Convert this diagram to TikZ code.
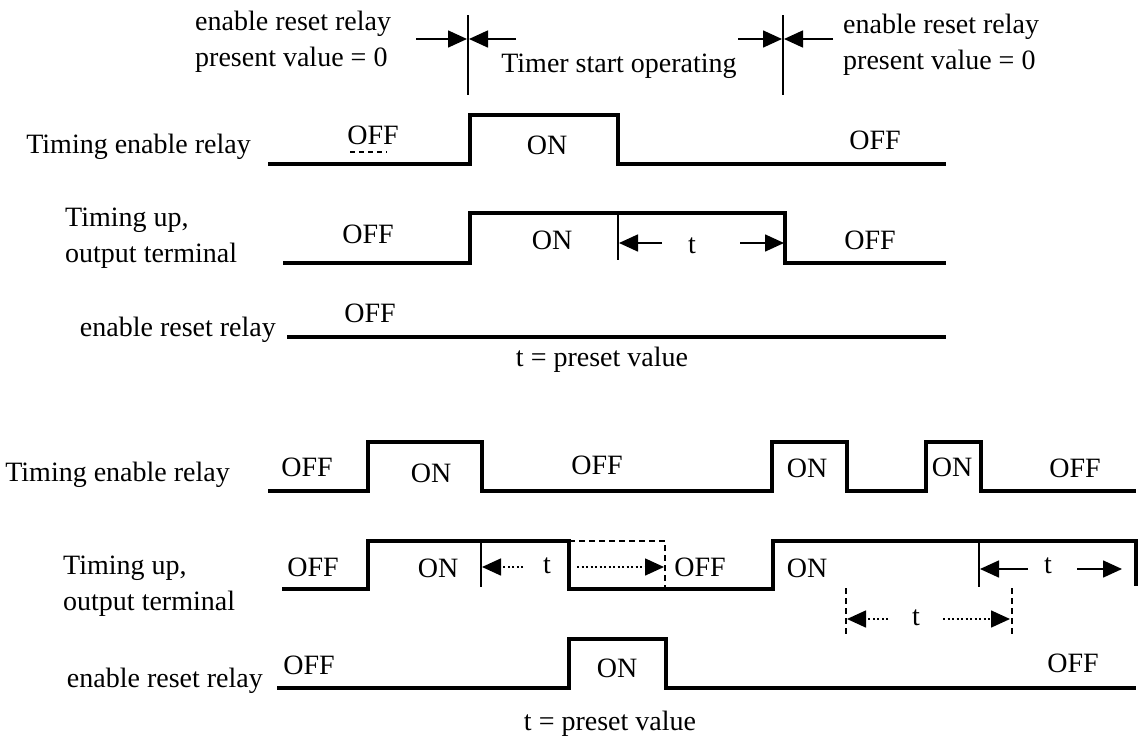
\documentclass[tikz,border=0pt]{standalone}
\usepackage{fontspec}
\setmainfont{Liberation Serif}
\usetikzlibrary{arrows.meta}
\begin{document}
\begin{tikzpicture}[x=1pt,y=-1pt,
  every node/.style={font=\fontsize{28}{36}\selectfont, inner sep=0pt},
  lbl/.style={align=left},
  sig/.style={line width=3.2pt, line join=miter},
  marker/.style={line width=1.6pt},
  dimarr/.style={line width=1.6pt, -{Triangle[length=19pt,width=17pt]}},
  dotarr/.style={line width=1.6pt, dash pattern=on 2pt off 2.5pt, -{Triangle[length=19pt,width=17pt]}},
  dashln/.style={line width=1.6pt, dash pattern=on 6pt off 4pt},
]
\useasboundingbox[fill=white] (0,0) rectangle (1138,736);

% ---------------- header ----------------
\node[lbl, anchor=west] (hl) at (195,42) {enable reset relay\\present value = 0};
\node[lbl, anchor=west] (hr) at (843,45) {enable reset relay\\present value = 0};
\node (ts) at (619,66) {Timer start operating};
\coordinate (v1t) at (468,15); \coordinate (v1b) at (468,95);
\coordinate (v2t) at (783,15); \coordinate (v2b) at (783,95);
\draw[marker] (v1t) -- (v1b);
\draw[marker] (v2t) -- (v2b);
\coordinate (h1a) at (416,39); \coordinate (h1b) at (467,39);
\coordinate (h2a) at (516,39); \coordinate (h2b) at (469,39);
\coordinate (h3a) at (738,39); \coordinate (h3b) at (782,39);
\coordinate (h4a) at (833,39); \coordinate (h4b) at (784,39);
\draw[dimarr] (h1a) -- (h1b);
\draw[dimarr] (h2a) -- (h2b);
\draw[dimarr] (h3a) -- (h3b);
\draw[dimarr] (h4a) -- (h4b);

% ---------------- top diagram ----------------
\node[anchor=east] (L1) at (251,147) {Timing enable relay};
\node[lbl, anchor=west] (L2) at (65,238) {Timing up,\\output terminal};
\node[anchor=east] (L3) at (276,330) {enable reset relay};

\draw[sig] (268,164) -- (470,164) -- (470,115) -- (618,115) -- (618,164) -- (946,164);
\draw[sig] (283,263) -- (470,263) -- (470,213) -- (785,213) -- (785,263) -- (946,263);
\draw[sig] (287,337) -- (946,337);

\node (t1a) at (373,135) {OFF};
\draw[line width=1.2pt, dash pattern=on 5pt off 4pt] (350,152) -- (387,152);
\node (t1b) at (547,145) {ON};
\node (t1c) at (875,140) {OFF};
\node (t2a) at (368,234) {OFF};
\node (t2b) at (552,240) {ON};
\node (t2c) at (870,240) {OFF};
\node (t3a) at (370,313) {OFF};
\node (tp1) at (602,360) {t = preset value};

\coordinate (m1t) at (618,213); \coordinate (m1b) at (618,260);
\draw[marker] (m1t) -- (m1b);
\coordinate (d1a) at (662,243); \coordinate (d1b) at (619,243);
\coordinate (d2a) at (740,243); \coordinate (d2b) at (784,243);
\draw[dimarr] (d1a) -- (d1b);
\draw[dimarr] (d2a) -- (d2b);
\node (tt1) at (692,246) {t};

% ---------------- bottom diagram ----------------
\node[anchor=east] (B1) at (230,475) {Timing enable relay};
\node[lbl, anchor=west] (B2) at (63,586) {Timing up,\\output terminal};
\node[anchor=east] (B3) at (263,681) {enable reset relay};

\draw[sig] (268,491) -- (368,491) -- (368,442) -- (482,442) -- (482,491)
  -- (772,491) -- (772,442) -- (847,442) -- (847,491)
  -- (926,491) -- (926,442) -- (981,442) -- (981,491) -- (1136,491);
\draw[sig] (282,589) -- (368,589) -- (368,541) -- (569,541) -- (569,589)
  -- (773,589) -- (773,541) -- (1136,541) -- (1136,586);
\draw[sig] (277,688) -- (569,688) -- (569,639) -- (666,639) -- (666,688) -- (1136,688);

\node (b1a) at (307,467) {OFF};
\node (b1b) at (431,473) {ON};
\node (b1c) at (597,465) {OFF};
\node (b1d) at (807,468) {ON};
\node (b1e) at (952,467) {ON};
\node (b1f) at (1075,468) {OFF};
\node (b2a) at (313,567) {OFF};
\node (b2b) at (438,568) {ON};
\node (b2c) at (700,567) {OFF};
\node (b2d) at (807,568) {ON};
\node (b3a) at (309,665) {OFF};
\node (b3b) at (617,668) {ON};
\node (b3c) at (1073,663) {OFF};
\node (tp2) at (610,724) {t = preset value};

% dashed "would-be" pulse
\coordinate (q1) at (569,541); \coordinate (q2) at (665,541); \coordinate (q3) at (665,589);
\draw[dashln] (q1) -- (q2) -- (q3);

% first interrupted timing
\coordinate (m2t) at (481,541); \coordinate (m2b) at (481,587);
\draw[marker] (m2t) -- (m2b);
\coordinate (e1a) at (523,567); \coordinate (e1b) at (482,567);
\coordinate (e2a) at (577,567); \coordinate (e2b) at (664,567);
\draw[dotarr] (e1a) -- (e1b);
\draw[dotarr] (e2a) -- (e2b);
\node (tt2) at (547,566) {t};

% second timing (completed)
\coordinate (m3t) at (979,541); \coordinate (m3b) at (979,587);
\draw[marker] (m3t) -- (m3b);
\coordinate (f1a) at (1028,569); \coordinate (f1b) at (980,569);
\coordinate (f2a) at (1077,569); \coordinate (f2b) at (1122,569);
\draw[dimarr] (f1a) -- (f1b);
\draw[dimarr] (f2a) -- (f2b);
\node (tt3) at (1048,566) {t};

% dashed dimension below
\coordinate (g1t) at (846,588); \coordinate (g1b) at (846,635);
\coordinate (g2t) at (1012,588); \coordinate (g2b) at (1012,635);
\draw[dashln] (g1t) -- (g1b);
\draw[dashln] (g2t) -- (g2b);
\coordinate (k1a) at (888,619); \coordinate (k1b) at (847,619);
\coordinate (k2a) at (943,619); \coordinate (k2b) at (1010,619);
\draw[dotarr] (k1a) -- (k1b);
\draw[dotarr] (k2a) -- (k2b);
\node (tt4) at (916,618) {t};
\end{tikzpicture}
\end{document}
